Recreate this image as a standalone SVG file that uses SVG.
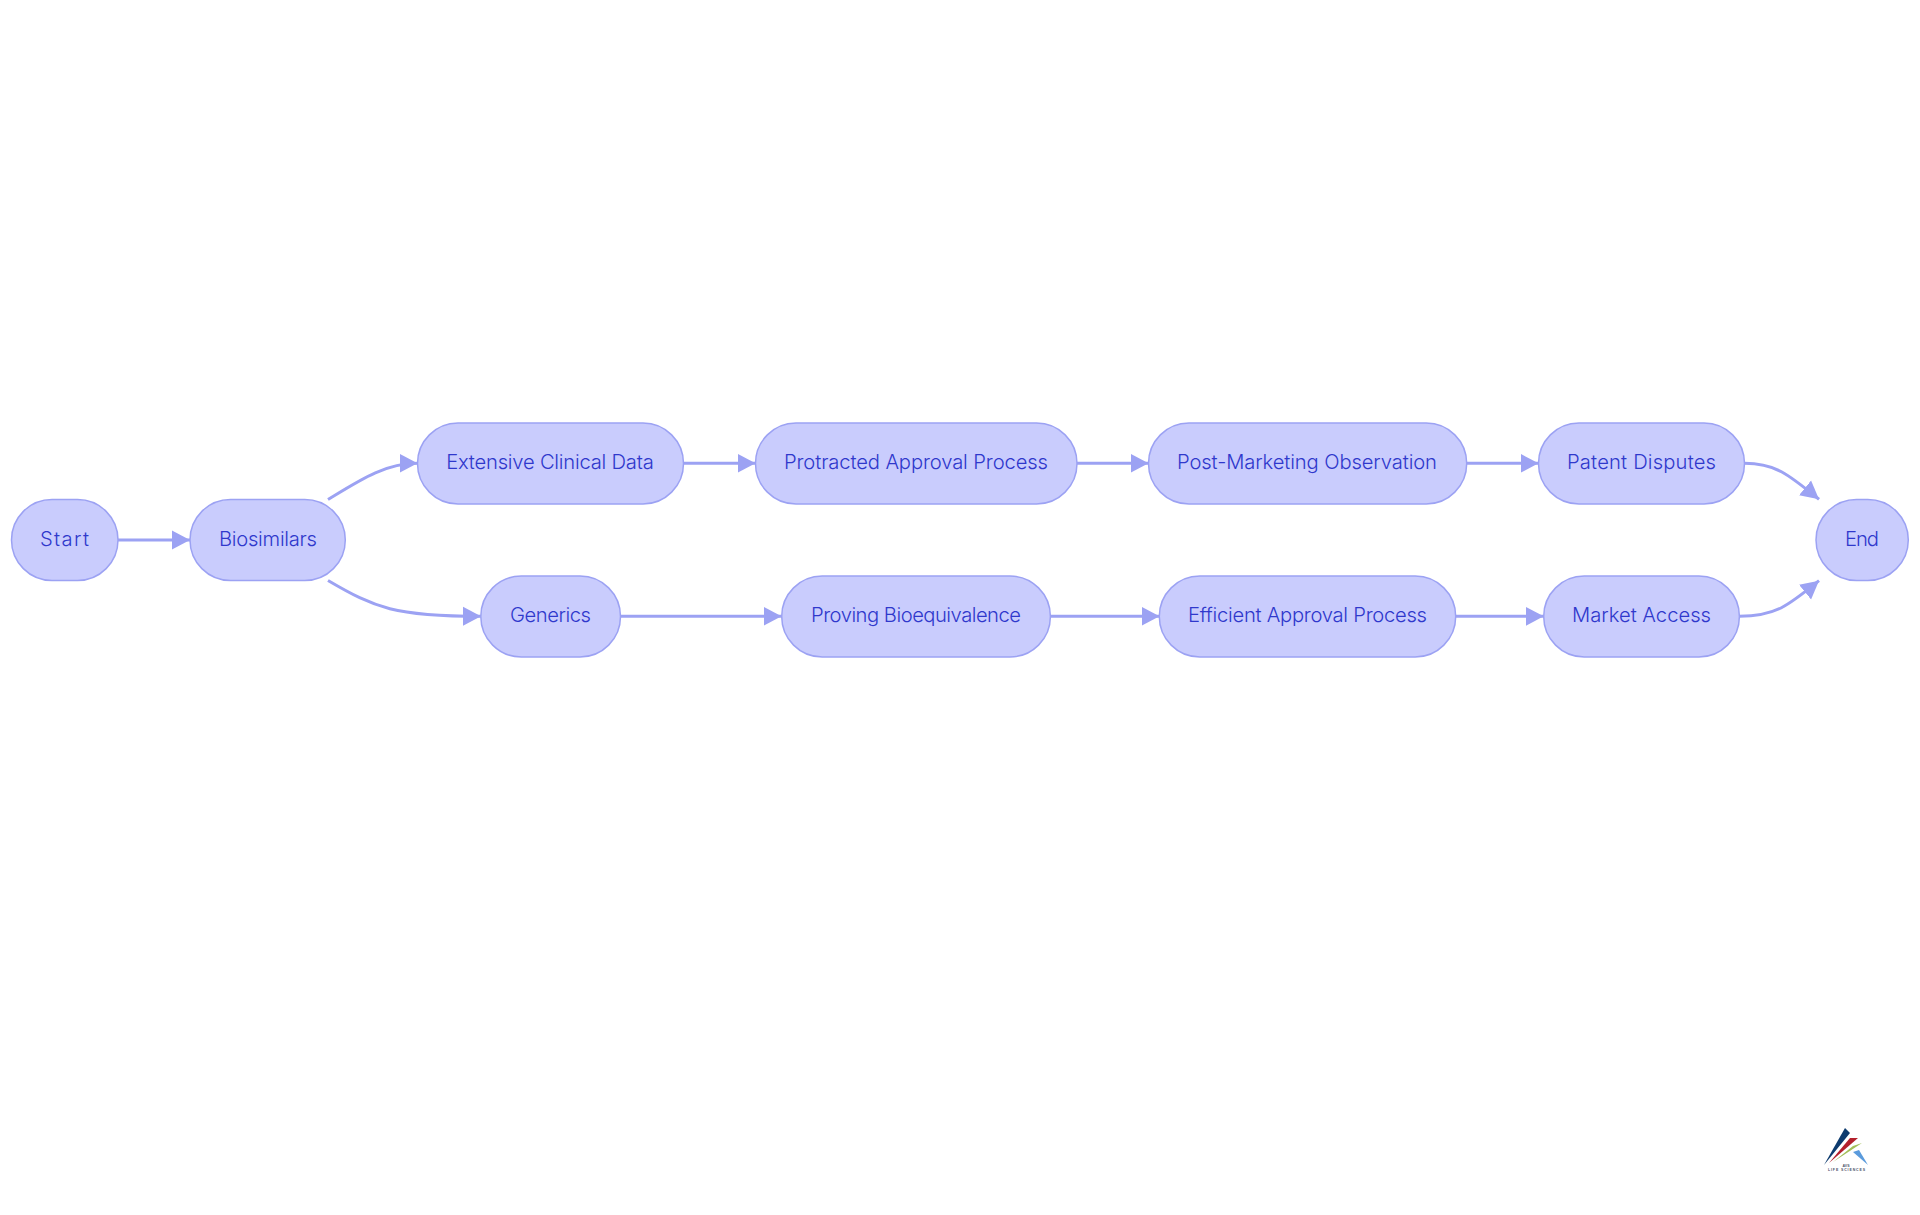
<svg xmlns="http://www.w3.org/2000/svg" width="1920" height="1215" viewBox="0 0 1920 1215">
<style>
.n{fill:#c9ccfd;stroke:#9ca2f3;stroke-width:1.5}
.t{font-family:"Inter","Noto Sans",sans-serif;font-size:20.2px;font-weight:350;fill:#2f38cc;text-anchor:middle}
.c{fill:none;stroke:#9ca2f3;stroke-width:3}
.l{font-family:"Liberation Sans",sans-serif;font-size:3.5px;font-weight:700;fill:#4a5268;text-anchor:middle}
</style>
<defs><marker id="a" markerUnits="userSpaceOnUse" markerWidth="20" markerHeight="20" refX="18" refY="10" orient="auto"><path d="M0 .5L18 10L0 19.500Z" fill="#9ca2f3"/></marker></defs>
<rect width="1920" height="1215" fill="#fff"/>
<g id="connectors">
<path class="c" marker-end="url(#a)" d="M118 540H190"/>
<path class="c" marker-end="url(#a)" d="M328 499.500C360 480 385 463.300 417.500 463.300"/>
<path class="c" marker-end="url(#a)" d="M328 580.500C375 608 395 616.300 481 616.300"/>
<path class="c" marker-end="url(#a)" d="M683.500 463.300H755.500"/>
<path class="c" marker-end="url(#a)" d="M620.500 616.300H781.500"/>
<path class="c" marker-end="url(#a)" d="M1077 463.300H1148.500"/>
<path class="c" marker-end="url(#a)" d="M1050.500 616.300H1159.500"/>
<path class="c" marker-end="url(#a)" d="M1466.700 463.300H1538.500"/>
<path class="c" marker-end="url(#a)" d="M1455.700 616.300H1543.700"/>
<path class="c" marker-end="url(#a)" d="M1744.500 463.300C1775 463.300 1788 474 1819 499.300"/>
<path class="c" marker-end="url(#a)" d="M1739.500 616.300C1775 616.300 1788 606 1819 580.700"/>
</g>
<g id="start"><rect class="n" x="11.500" y="499.500" width="106.500" height="81" rx="40.500"/><text class="t" x="64.500" y="546" textLength="49">Start</text></g>
<g id="biosimilars"><rect class="n" x="190" y="499.500" width="155.300" height="81" rx="40.500"/><text class="t" x="268" y="546" textLength="98">Biosimilars</text></g>
<g id="clinical"><rect class="n" x="417.500" y="423" width="266" height="81" rx="40.500"/><text class="t" x="550" y="469" textLength="207.500">Extensive Clinical Data</text></g>
<g id="protracted"><rect class="n" x="755.500" y="423" width="321.500" height="81" rx="40.500"/><text class="t" x="916" y="469" textLength="264">Protracted Approval Process</text></g>
<g id="post"><rect class="n" x="1148.500" y="423" width="318.200" height="81" rx="40.500"/><text class="t" x="1307" y="469" textLength="260">Post-Marketing Observation</text></g>
<g id="patent"><rect class="n" x="1538.500" y="423" width="206" height="81" rx="40.500"/><text class="t" x="1641.500" y="469" textLength="149">Patent Disputes</text></g>
<g id="generics"><rect class="n" x="480.800" y="576" width="139.700" height="81" rx="40.500"/><text class="t" x="550.500" y="622" textLength="81">Generics</text></g>
<g id="bioequivalence"><rect class="n" x="781.700" y="576" width="268.700" height="81" rx="40.500"/><text class="t" x="916" y="622" textLength="210">Proving Bioequivalence</text></g>
<g id="efficient"><rect class="n" x="1159.300" y="576" width="296.400" height="81" rx="40.500"/><text class="t" x="1307.500" y="622" textLength="239">Efficient Approval Process</text></g>
<g id="market"><rect class="n" x="1543.700" y="576" width="195.700" height="81" rx="40.500"/><text class="t" x="1641.500" y="622" textLength="139">Market Access</text></g>
<g id="end"><rect class="n" x="1816" y="499.500" width="92.300" height="81" rx="40.500"/><text class="t" x="1862" y="546" textLength="34">End</text></g>
<g id="logo">
<polygon points="1824,1165 1845,1128 1850,1133" fill="#0d3b6e"/>
<polygon points="1829,1163 1850,1138 1858,1138" fill="#b3202c"/>
<polygon points="1833,1162 1853,1146 1862,1143" fill="#a4bf5a"/>
<polygon points="1853,1152 1859,1150 1868,1165" fill="#5b9bdc"/>
<text class="l" x="1846" y="1166.500">AVS</text>
<text class="l" x="1846.500" y="1170.500" textLength="37">LIFE SCIENCES</text>
</g>
</svg>
